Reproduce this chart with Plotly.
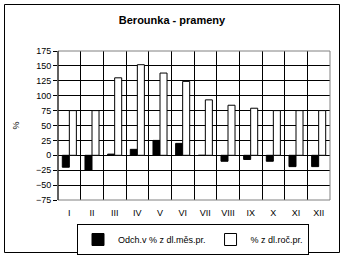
import plotly.graph_objects as go

months = ["I", "II", "III", "IV", "V", "VI", "VII", "VIII", "IX", "X", "XI", "XII"]
odch_mes = [-20, -25, 2, 10, 25, 20, 0, -10, -7, -10, -19, -19]
pct_roc = [75, 75, 130, 152, 138, 124, 93, 84, 79, 75, 75, 75]
y_ticks = [-75, -50, -25, 0, 25, 50, 75, 100, 125, 150, 175]

W, H = 344, 258
L, R, T, B = 58, 14, 51, 58
pw, ph = W - L - R, H - T - B

def px_x(x):
    return (x - L) / pw

def px_y(y):
    return (H - B - y) / ph

fig = go.Figure()
fig.add_trace(go.Bar(x=months, y=odch_mes, name="Odch.v % z dl.měs.pr.",
                     marker=dict(color="black", line=dict(color="black", width=1))))
fig.add_trace(go.Bar(x=months, y=pct_roc, name="% z dl.roč.pr.",
                     marker=dict(color="white", line=dict(color="black", width=1))))

font = dict(family="Arial, Liberation Sans, sans-serif", size=9, color="black")

fig.update_layout(
    width=W, height=H,
    margin=dict(l=L, r=R, t=T, b=B, autoexpand=False),
    paper_bgcolor="white", plot_bgcolor="white",
    barmode="group", bargap=0.38, bargroupgap=0.0,
    font=font,
    showlegend=True,
    title=dict(text="<b>Berounka - prameny</b>", x=0.5, xanchor="center",
               xref="container", yref="container",
               y=1 - 20 / H, yanchor="middle",
               font=dict(family="Arial, Liberation Sans, sans-serif", size=11, color="black")),
    legend=dict(orientation="h", x=193 / W, xanchor="center", xref="container",
                yref="container", y=1 - 239.5 / H, yanchor="middle",
                bordercolor="black", borderwidth=1, bgcolor="white",
                font=dict(family="Arial, Liberation Sans, sans-serif", size=9, color="black"),
                itemwidth=30, tracegroupgap=0),
    xaxis=dict(type="category", tickson="boundaries", showgrid=True, gridcolor="black",
               gridwidth=1, ticks="", showline=False, zeroline=False,
               tickfont=font, ticklabelstandoff=6, automargin=False),
    yaxis=dict(range=[-75, 175], tickvals=y_ticks, showgrid=True, gridcolor="black",
               gridwidth=1, ticks="outside", ticklen=4, tickcolor="black",
               showline=False, zeroline=True, zerolinecolor="black", zerolinewidth=1,
               tickfont=font, automargin=False,
               title=dict(text="%", font=font, standoff=14)),
    shapes=[
        dict(type="rect", xref="paper", yref="paper", x0=0, x1=1, y0=0, y1=1,
             line=dict(color="#808080", width=1), layer="above"),
        dict(type="line", xref="paper", yref="paper", x0=0, x1=0, y0=0, y1=1,
             line=dict(color="black", width=1), layer="above"),
        dict(type="rect", xref="paper", yref="paper",
             x0=px_x(4.5), x1=px_x(339.5), y0=px_y(252.5), y1=px_y(4.5),
             line=dict(color="black", width=1), layer="above"),
    ],
)

fig.write_html("out.html")
